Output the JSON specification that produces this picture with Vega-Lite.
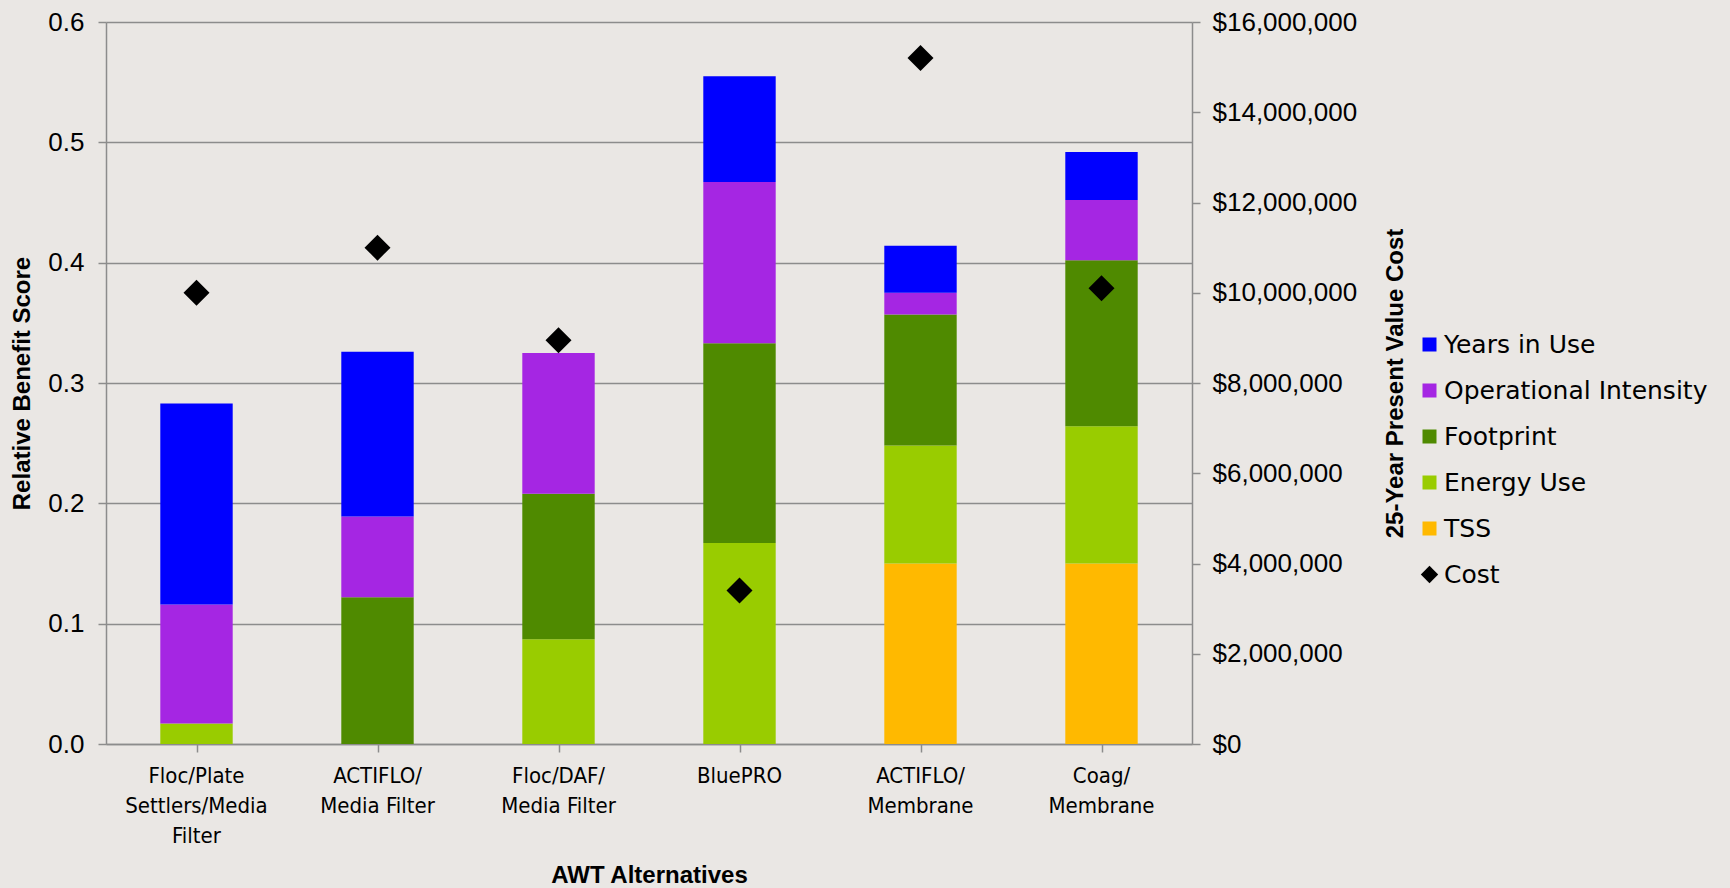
{
  "$schema": "https://vega.github.io/schema/vega-lite/v6.json",
  "autosize": {"type": "none"},
  "width": 1086,
  "height": 722,
  "padding": {"left": 106, "top": 22, "right": 538, "bottom": 144},
  "background": "#EAE7E4",
  "config": {
    "view": {"stroke": null},
    "font": "Liberation Sans",
    "axis": {
      "domainColor": "#8c8c8c", "domainWidth": 1.5,
      "tickColor": "#8c8c8c", "tickWidth": 1.5,
      "gridColor": "#8c8c8c", "gridWidth": 1.5,
      "labelColor": "#000000", "titleColor": "#000000",
      "labelFont": "Liberation Sans", "titleFont": "Liberation Sans",
      "titleFontWeight": "bold", "titleFontSize": 24
    }
  },
  "datasets": {
    "criteria": [
      {"series": "TSS", "level": 1},
      {"series": "Energy Use", "level": 2},
      {"series": "Footprint", "level": 3},
      {"series": "Operational Intensity", "level": 4},
      {"series": "Years in Use", "level": 5}
    ],
    "scores": [
      {"alternative": "Floc/Plate Settlers/Media Filter", "series": "Energy Use", "score": 0.017},
      {"alternative": "Floc/Plate Settlers/Media Filter", "series": "Operational Intensity", "score": 0.099},
      {"alternative": "Floc/Plate Settlers/Media Filter", "series": "Years in Use", "score": 0.167},
      {"alternative": "ACTIFLO/Media Filter", "series": "Footprint", "score": 0.122},
      {"alternative": "ACTIFLO/Media Filter", "series": "Operational Intensity", "score": 0.067},
      {"alternative": "ACTIFLO/Media Filter", "series": "Years in Use", "score": 0.137},
      {"alternative": "Floc/DAF/Media Filter", "series": "Energy Use", "score": 0.087},
      {"alternative": "Floc/DAF/Media Filter", "series": "Footprint", "score": 0.121},
      {"alternative": "Floc/DAF/Media Filter", "series": "Operational Intensity", "score": 0.117},
      {"alternative": "BluePRO", "series": "Energy Use", "score": 0.167},
      {"alternative": "BluePRO", "series": "Footprint", "score": 0.166},
      {"alternative": "BluePRO", "series": "Operational Intensity", "score": 0.134},
      {"alternative": "BluePRO", "series": "Years in Use", "score": 0.088},
      {"alternative": "ACTIFLO/Membrane", "series": "TSS", "score": 0.150},
      {"alternative": "ACTIFLO/Membrane", "series": "Energy Use", "score": 0.098},
      {"alternative": "ACTIFLO/Membrane", "series": "Footprint", "score": 0.109},
      {"alternative": "ACTIFLO/Membrane", "series": "Operational Intensity", "score": 0.018},
      {"alternative": "ACTIFLO/Membrane", "series": "Years in Use", "score": 0.039},
      {"alternative": "Coag/Membrane", "series": "TSS", "score": 0.150},
      {"alternative": "Coag/Membrane", "series": "Energy Use", "score": 0.114},
      {"alternative": "Coag/Membrane", "series": "Footprint", "score": 0.138},
      {"alternative": "Coag/Membrane", "series": "Operational Intensity", "score": 0.050},
      {"alternative": "Coag/Membrane", "series": "Years in Use", "score": 0.040}
    ],
    "costs": [
      {"alternative": "Floc/Plate Settlers/Media Filter", "series": "Cost", "cost": 10000000},
      {"alternative": "ACTIFLO/Media Filter", "series": "Cost", "cost": 11000000},
      {"alternative": "Floc/DAF/Media Filter", "series": "Cost", "cost": 8950000},
      {"alternative": "BluePRO", "series": "Cost", "cost": 3400000},
      {"alternative": "ACTIFLO/Membrane", "series": "Cost", "cost": 15200000},
      {"alternative": "Coag/Membrane", "series": "Cost", "cost": 10100000}
    ]
  },
  "layer": [
    {
      "data": {"name": "scores"},
      "transform": [
        {"lookup": "series", "from": {"data": {"name": "criteria"}, "key": "series", "fields": ["level"]}}
      ],
      "mark": {"type": "bar", "width": {"band": 0.4}},
      "encoding": {
        "x": {
          "field": "alternative", "type": "nominal",
          "sort": ["Floc/Plate Settlers/Media Filter", "ACTIFLO/Media Filter", "Floc/DAF/Media Filter", "BluePRO", "ACTIFLO/Membrane", "Coag/Membrane"],
          "scale": {"paddingInner": 0, "paddingOuter": 0},
          "axis": {
            "orient": "bottom",
            "title": "AWT Alternatives",
            "titleX": 543, "titleY": 131, "titleBaseline": "middle", "titleAlign": "center",
            "ticks": false, "tickSize": 0,
            "labelAngle": 0, "labelFontSize": 22, "labelLineHeight": 30,
            "labelFont": "DejaVu Sans Condensed, sans-serif",
            "labelPadding": 21, "labelBaseline": "top", "labelLimit": 0,
            "labelExpr": "datum.value == 'Floc/Plate Settlers/Media Filter' ? ['Floc/Plate', 'Settlers/Media', 'Filter'] : datum.value == 'BluePRO' ? 'BluePRO' : [substring(datum.value, 0, lastindexof(datum.value, '/') + 1), substring(datum.value, lastindexof(datum.value, '/') + 1)]"
          }
        },
        "y": {
          "field": "score", "type": "quantitative", "stack": "zero",
          "scale": {"domain": [0, 0.6], "nice": false},
          "axis": {
            "title": "Relative Benefit Score",
            "values": [0, 0.1, 0.2, 0.3, 0.4, 0.5, 0.6],
            "format": ".1f", "grid": true,
            "tickSize": 8, "labelFontSize": 26, "labelPadding": 14,
            "titleX": -84, "titleY": 361, "titleAngle": -90, "titleAlign": "center", "titleBaseline": "middle"
          }
        },
        "order": {"field": "level", "type": "quantitative", "sort": "ascending"},
        "color": {
          "field": "series", "type": "nominal",
          "scale": {
            "domain": ["Years in Use", "Operational Intensity", "Footprint", "Energy Use", "TSS", "Cost"],
            "range": ["#0000FF", "#A526E3", "#4F8A00", "#99CC00", "#FFB900", "#000000"]
          },
          "legend": {
            "title": null, "orient": "none", "legendX": 1311, "legendY": 310,
            "values": ["Years in Use", "Operational Intensity", "Footprint", "Energy Use", "TSS", "Cost"],
            "symbolType": "square", "symbolSize": 196, "symbolStrokeWidth": 0,
            "labelFontSize": 25, "labelFont": "DejaVu Sans", "labelColor": "#000000",
            "labelOffset": 2, "rowPadding": 20, "labelLimit": 0,
            "encode": {
              "symbols": {"update": {
                "shape": {"signal": "datum.value === 'Cost' ? 'diamond' : 'square'"},
                "size": {"signal": "datum.value === 'Cost' ? 300 : 196"}
              }}
            }
          }
        }
      }
    },
    {
      "data": {"name": "costs"},
      "mark": {"type": "point", "shape": "diamond", "filled": true, "size": 676, "opacity": 1},
      "encoding": {
        "x": {
          "field": "alternative", "type": "nominal",
          "sort": ["Floc/Plate Settlers/Media Filter", "ACTIFLO/Media Filter", "Floc/DAF/Media Filter", "BluePRO", "ACTIFLO/Membrane", "Coag/Membrane"],
          "scale": {"paddingInner": 0, "paddingOuter": 0},
          "axis": {
            "orient": "bottom",
            "title": null, "labels": false, "domain": false, "grid": false,
            "ticks": true, "tickSize": 8, "bandPosition": 0
          }
        },
        "y": {
          "field": "cost", "type": "quantitative",
          "scale": {"domain": [0, 16000000], "nice": false},
          "axis": {
            "orient": "right",
            "title": "25-Year Present Value Cost",
            "values": [0, 2000000, 4000000, 6000000, 8000000, 10000000, 12000000, 14000000, 16000000],
            "format": "$,.0f", "grid": false,
            "tickSize": 8, "labelFontSize": 26, "labelPadding": 12,
            "titleX": 203, "titleY": 361, "titleAngle": -90, "titleAlign": "center", "titleBaseline": "middle"
          }
        },
        "color": {"field": "series", "type": "nominal"}
      }
    }
  ],
  "resolve": {"scale": {"x": "independent", "y": "independent"}}
}
